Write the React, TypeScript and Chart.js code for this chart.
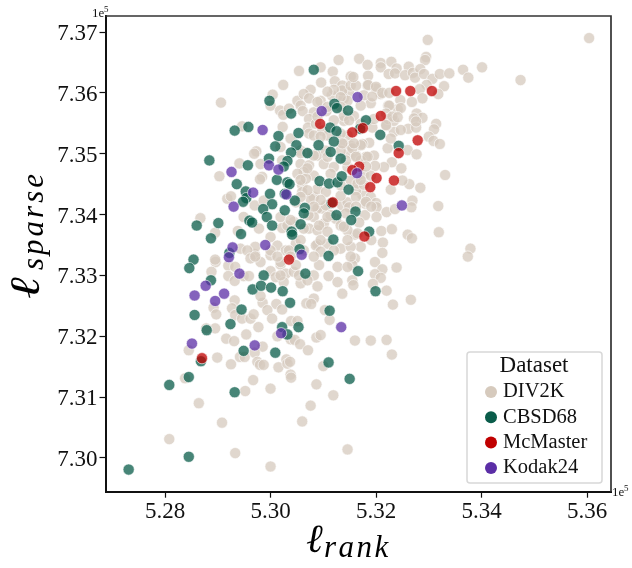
import React, { useEffect, useRef } from "react";
import { Chart, registerables } from "chart.js";

Chart.register(...registerables);

const xTickValues = [5.28, 5.3, 5.32, 5.34, 5.36];
const yTickValues = [7.3, 7.31, 7.32, 7.33, 7.34, 7.35, 7.36, 7.37];
const seriesNames = ["DIV2K", "CBSD68", "McMaster", "Kodak24"];
const seriesColors = ["#d6cabd", "#0a5c4a", "#c00000", "#5b2ea6"];

const div2k: number[][] = [
[5.3604,7.3690],[5.3298,7.3687],[5.3295,7.3659],[5.3293,7.3654],[5.3168,7.3656],[5.3184,7.3646],[5.3209,7.3649],[5.3229,7.3651],[5.3209,7.3642],[5.3262,7.3643],
[5.3239,7.3640],[5.3224,7.3631],[5.3236,7.3632],[5.3255,7.3629],[5.3270,7.3633],[5.3284,7.3639],[5.3274,7.3625],[5.3291,7.3631],[5.3307,7.3623],[5.3321,7.3631],
[5.3339,7.3632],[5.3365,7.3638],[5.3401,7.3642],[5.3375,7.3625],[5.3474,7.3621],[5.3329,7.3611],[5.3296,7.3613],[5.3283,7.3606],[5.3318,7.3598],[5.3288,7.3591],
[5.3268,7.3585],[5.3246,7.3588],[5.3185,7.3628],[5.3152,7.3627],[5.3241,7.3573],[5.3223,7.3579],[5.3209,7.3598],[5.3190,7.3583],[5.3277,7.3566],[5.3288,7.3559],
[5.3272,7.3558],[5.3314,7.3549],[5.3310,7.3540],[5.3261,7.3541],[5.3234,7.3536],[5.3300,7.3528],[5.3309,7.3521],[5.3321,7.3516],[5.3220,7.3546],[5.3276,7.3543],
[5.3193,7.3543],[5.3260,7.3506],[5.3277,7.3499],[5.3222,7.3509],[5.3187,7.3518],[5.3174,7.3516],[5.3228,7.3525],[5.3196,7.3497],[5.3181,7.3495],[5.3230,7.3486],
[5.3215,7.3478],[5.3198,7.3480],[5.3248,7.3476],[5.3331,7.3465],[5.3263,7.3450],[5.3284,7.3444],[5.3228,7.3441],[5.3250,7.3456],[5.3177,7.3465],[5.3174,7.3432],
[5.3190,7.3429],[5.3179,7.3418],[5.3200,7.3419],[5.3201,7.3412],[5.3201,7.3396],[5.3220,7.3404],[5.3236,7.3409],[5.3269,7.3423],[5.3267,7.3412],[5.3318,7.3414],
[5.3179,7.3399],[5.3168,7.3387],[5.3210,7.3373],[5.3230,7.3376],[5.3260,7.3367],[5.3268,7.3361],[5.3319,7.3371],[5.3160,7.3367],[5.3191,7.3358],[5.3213,7.3354],
[5.3171,7.3347],[5.3212,7.3337],[5.3379,7.3344],[5.3374,7.3331],[5.3160,7.3328],[5.3198,7.3322],[5.3155,7.3317],[5.3212,7.3310],[5.3239,7.3313],[5.3198,7.3302],
[5.3209,7.3296],[5.3155,7.3292],[5.3157,7.3284],[5.3194,7.3286],[5.3220,7.3275],[5.3232,7.3252],[5.3266,7.3260],[5.3160,7.3193],[5.3190,7.3193],[5.3220,7.3194],
[5.3230,7.3170],[5.2896,7.3322],[5.2888,7.3306],[5.2920,7.3316],[5.2933,7.3314],[5.2920,7.3299],[5.2932,7.3291],[5.2949,7.3299],[5.2959,7.3299],[5.3000,7.3307],
[5.2970,7.3335],[5.3000,7.3333],[5.2981,7.3322],[5.3019,7.3318],[5.3029,7.3303],[5.3010,7.3297],[5.3025,7.3289],[5.3044,7.3306],[5.3082,7.3300],[5.3089,7.3282],
[5.3057,7.3287],[5.3110,7.3299],[5.3127,7.3289],[5.3136,7.3270],[5.3082,7.3262],[5.3068,7.3254],[5.3077,7.3253],[5.2985,7.3255],[5.2981,7.3266],[5.3011,7.3253],
[5.3022,7.3244],[5.2994,7.3243],[5.3003,7.3229],[5.2932,7.3259],[5.2927,7.3246],[5.2892,7.3247],[5.2897,7.3236],[5.2933,7.3235],[5.2946,7.3229],[5.2962,7.3229],
[5.2968,7.3236],[5.2977,7.3215],[5.3039,7.3225],[5.3051,7.3225],[5.3103,7.3243],[5.3112,7.3227],[5.2895,7.3213],[5.2878,7.3213],[5.2954,7.3203],[5.2916,7.3196],
[5.2931,7.3192],[5.3013,7.3200],[5.3087,7.3198],[5.3095,7.3202],[5.3038,7.3195],[5.3046,7.3194],[5.3056,7.3187],[5.3071,7.3177],[5.2985,7.3183],[5.2845,7.3177],
[5.2899,7.3165],[5.2942,7.3166],[5.2951,7.3166],[5.2970,7.3173],[5.2975,7.3158],[5.2980,7.3153],[5.2987,7.3153],[5.2925,7.3154],[5.3015,7.3149],[5.3030,7.3162],
[5.3032,7.3155],[5.3037,7.3158],[5.3100,7.3151],[5.3038,7.3137],[5.3039,7.3132],[5.2838,7.3131],[5.2967,7.3128],[5.3000,7.3114],[5.3087,7.3121],[5.2952,7.3110],
[5.3119,7.3103],[5.2864,7.3090],[5.3076,7.3086],[5.2908,7.3058],[5.3060,7.3060],[5.2808,7.3031],[5.2933,7.3008],[5.3146,7.3014],[5.3000,7.2986],[5.3129,7.3654],
[5.3095,7.3642],[5.3054,7.3636],[5.3118,7.3635],[5.3024,7.3613],[5.3096,7.3617],[5.3122,7.3619],[5.2906,7.3584],[5.3004,7.3597],[5.3000,7.3579],[5.3018,7.3571],
[5.3024,7.3564],[5.3035,7.3574],[5.3051,7.3587],[5.3076,7.3605],[5.3063,7.3598],[5.3095,7.3587],[5.3136,7.3612],[5.3149,7.3601],[5.3073,7.3591],[5.3057,7.3579],
[5.3061,7.3570],[5.3082,7.3568],[5.3106,7.3570],[5.3073,7.3557],[5.3071,7.3543],[5.3086,7.3549],[5.3023,7.3544],[5.2946,7.3545],[5.3038,7.3525],[5.3073,7.3533],
[5.3098,7.3538],[5.3139,7.3554],[5.3146,7.3530],[5.3108,7.3530],[5.2973,7.3504],[5.2969,7.3500],[5.2941,7.3484],[5.2981,7.3483],[5.3022,7.3489],[5.3057,7.3483],
[5.3073,7.3481],[5.3089,7.3497],[5.3101,7.3483],[5.3120,7.3478],[5.3149,7.3502],[5.2903,7.3463],[5.2984,7.3462],[5.2980,7.3458],[5.3063,7.3470],[5.3051,7.3467],
[5.3082,7.3464],[5.3114,7.3467],[5.3060,7.3448],[5.3082,7.3429],[5.3089,7.3442],[5.2918,7.3426],[5.2925,7.3430],[5.2970,7.3415],[5.3098,7.3410],[5.3089,7.3410],
[5.3044,7.3388],[5.3082,7.3396],[5.3101,7.3385],[5.3136,7.3415],[5.3146,7.3420],[5.3073,7.3377],[5.3089,7.3374],[5.3063,7.3377],[5.3022,7.3378],[5.3000,7.3363],
[5.2978,7.3377],[5.2867,7.3394],[5.2895,7.3370],[5.2938,7.3373],[5.2949,7.3396],[5.2971,7.3347],[5.2943,7.3344],[5.2956,7.3341],[5.3013,7.3349],[5.3029,7.3341],
[5.3048,7.3352],[5.3089,7.3351],[5.3133,7.3344],[5.3152,7.3347],[5.3146,7.3374],[5.3165,7.3369],[5.2895,7.3326],[5.3067,7.3459],[5.3146,7.3478],[5.3060,7.3437],
[5.3105,7.3437],[5.3133,7.3431],[5.3149,7.3412],[5.3076,7.3426],[5.3048,7.3420],[5.2987,7.3423],[5.3124,7.3393],[5.3032,7.3382],[5.3139,7.3516],[5.3082,7.3497],
[5.3067,7.3502],[5.3019,7.3511],[5.3092,7.3382],[5.3086,7.3349],[5.3108,7.3352],[5.3146,7.3358],[5.3035,7.3341],[5.3019,7.3322],[5.3048,7.3317],[5.3054,7.3300],
[5.3019,7.3300],[5.3092,7.3317],[5.3127,7.3314],[5.3146,7.3314],[5.3070,7.3292],[5.2962,7.3328],[5.3139,7.3591],[5.3116,7.3596],[5.3136,7.3604],[5.3152,7.3612],
[5.3162,7.3612],[5.3184,7.3612],[5.3200,7.3607],[5.3177,7.3596],[5.3193,7.3594],[5.3146,7.3587],[5.3171,7.3579],[5.3225,7.3579],[5.3158,7.3562],[5.3139,7.3562],
[5.3219,7.3566],[5.3171,7.3549],[5.3196,7.3557],[5.3223,7.3557],[5.3234,7.3554],[5.3082,7.3530],[5.3152,7.3513],[5.3133,7.3505],[5.3162,7.3497],[5.3143,7.3489],
[5.3171,7.3489],[5.3105,7.3505],[5.3057,7.3505],[5.3190,7.3464],[5.3152,7.3456],[5.3133,7.3448],[5.3162,7.3440],[5.3105,7.3415],[5.3072,7.3399],[5.3114,7.3399],
[5.3133,7.3382],[5.3057,7.3358],[5.3095,7.3358],
[5.3157,7.3626],[5.3185,7.3613],[5.3200,7.3610],[5.3212,7.3600],[5.3225,7.3600],[5.3247,7.3575],[5.3231,7.3561],[5.3241,7.3560],[5.3219,7.3547],[5.3247,7.3539],
[5.3276,7.3553],[5.3171,7.3514],[5.3155,7.3509],[5.3184,7.3495],[5.3162,7.3495],[5.3181,7.3479],[5.3165,7.3451],[5.3177,7.3449],[5.3171,7.3457],[5.3162,7.3429],
[5.3181,7.3421],[5.3191,7.3413],[5.3162,7.3413],[5.3120,7.3605],[5.3133,7.3593],[5.3108,7.3602],[5.3089,7.3585],[5.3108,7.3577],[5.3133,7.3577],[5.3089,7.3561],
[5.3120,7.3555],[5.3149,7.3555],[5.3133,7.3533],[5.3095,7.3528],[5.3158,7.3517],[5.3136,7.3517],[5.3057,7.3501],[5.3108,7.3495],[5.3070,7.3476],[5.3057,7.3457],
[5.3070,7.3440],[5.3057,7.3429],[5.3095,7.3424],[5.3143,7.3402],[5.3082,7.3413],[5.3019,7.3396],[5.3038,7.3391],[5.3108,7.3396],[5.3139,7.3380],[5.3108,7.3372],
[5.3063,7.3341],[5.3095,7.3339],[5.3120,7.3341],[5.3082,7.3331],[5.2971,7.3331],[5.3000,7.3341],[5.3013,7.3331],[5.3038,7.3331],[5.3152,7.3331],
];

const cbsd68: number[][] = [
[5.3082,7.3638],[5.2998,7.3587],[5.3039,7.3566],[5.3121,7.3582],[5.3126,7.3575],[5.3147,7.3571],[5.2932,7.3538],[5.2958,7.3544],[5.3113,7.3543],[5.3125,7.3537],
[5.3170,7.3541],[5.3015,7.3529],[5.3053,7.3534],[5.3009,7.3512],[5.3049,7.3514],[5.3091,7.3514],[5.3120,7.3520],[5.3039,7.3502],[5.3070,7.3501],[5.3114,7.3503],
[5.2884,7.3489],[5.2997,7.3492],[5.3032,7.3488],[5.3133,7.3492],[5.2957,7.3481],[5.3025,7.3479],[5.3012,7.3457],[5.2936,7.3450],[5.3032,7.3453],[5.3036,7.3450],
[5.3093,7.3455],[5.3111,7.3451],[5.3127,7.3453],[5.3135,7.3463],[5.2953,7.3438],[5.2954,7.3427],[5.2948,7.3421],[5.2999,7.3434],[5.3148,7.3441],[5.3027,7.3434],
[5.3046,7.3423],[5.3003,7.3417],[5.2986,7.3409],[5.3065,7.3411],[5.3063,7.3402],[5.3027,7.3407],[5.3161,7.3405],[5.2993,7.3396],[5.3125,7.3399],[5.3153,7.3391],
[5.2860,7.3382],[5.2901,7.3386],[5.2960,7.3390],[5.2965,7.3387],[5.3003,7.3382],[5.3057,7.3384],[5.2887,7.3361],[5.2944,7.3368],[5.3040,7.3372],[5.3041,7.3367],
[5.3119,7.3359],[5.3116,7.3419],[5.2922,7.3337],[5.2854,7.3326],[5.3055,7.3343],[5.3110,7.3332],[5.2846,7.3312],[5.2887,7.3292],[5.2987,7.3300],[5.3066,7.3303],
[5.3166,7.3307],[5.2966,7.3277],[5.2982,7.3283],[5.3001,7.3280],[5.3023,7.3274],[5.3037,7.3255],[5.2945,7.3244],[5.3112,7.3242],[5.2856,7.3235],[5.2924,7.3220],
[5.3022,7.3215],[5.3053,7.3215],[5.2879,7.3210],[5.3032,7.3203],[5.2949,7.3176],[5.3009,7.3173],[5.2868,7.3159],[5.3110,7.3157],[5.2845,7.3133],[5.2808,7.3120],
[5.2932,7.3108],[5.3150,7.3130],[5.2845,7.3002],[5.2731,7.2981],[5.3181,7.3555],[5.3208,7.3531],[5.3243,7.3513],[5.3187,7.3372],[5.3199,7.3274],
];

const mcmaster: number[][] = [
[5.3238,7.3603],[5.3265,7.3603],[5.3306,7.3603],[5.3209,7.3562],[5.3175,7.3542],[5.3155,7.3535],[5.3279,7.3522],[5.3243,7.3501],[5.3168,7.3479],[5.3155,7.3473],
[5.3201,7.3460],[5.3234,7.3456],[5.3189,7.3445],[5.3178,7.3364],[5.3094,7.3549],[5.3118,7.3420],[5.3035,7.3326],[5.2870,7.3164],
];

const kodak24: number[][] = [
[5.3097,7.3570],[5.3165,7.3593],[5.2985,7.3539],[5.2926,7.3470],[5.2997,7.3481],[5.3015,7.3474],[5.3164,7.3468],[5.2967,7.3436],[5.3030,7.3433],[5.2930,7.3413],
[5.2928,7.3346],[5.2921,7.3330],[5.2990,7.3350],[5.3059,7.3334],[5.2941,7.3303],[5.2877,7.3283],[5.2856,7.3267],[5.2912,7.3270],[5.2895,7.3258],[5.3134,7.3215],
[5.3020,7.3205],[5.2851,7.3188],[5.2970,7.3185],[5.3249,7.3415],
];

const seriesData = [div2k, cbsd68, mcmaster, kodak24];

const SERIF = '"Liberation Serif", serif';

function alpha(hex: string, a: number) {
  const n = parseInt(hex.slice(1), 16);
  return `rgba(${(n >> 16) & 255},${(n >> 8) & 255},${n & 255},${a})`;
}

const decorations = {
  id: "decorations",
  afterDraw(chart: any) {
    const { ctx, chartArea: a } = chart;
    ctx.save();
    // top and right spines
    ctx.strokeStyle = "#333";
    ctx.lineWidth = 1.7;
    ctx.beginPath();
    ctx.moveTo(a.left, a.top);
    ctx.lineTo(a.right, a.top);
    ctx.lineTo(a.right, a.bottom);
    ctx.stroke();

    // offset texts
    ctx.fillStyle = "#111";
    ctx.textBaseline = "alphabetic";
    ctx.textAlign = "left";
    ctx.font = `13px ${SERIF}`;
    ctx.fillText("1e", 92, 17);
    ctx.fillText("1e", 612, 496);
    ctx.font = `9px ${SERIF}`;
    ctx.fillText("5", 104, 12);
    ctx.fillText("5", 624, 491);

    // x axis title
    ctx.fillStyle = "#000";
    ctx.font = `italic 40px ${SERIF}`;
    ctx.fillText("\u2113", 306, 552);
    ctx.font = `italic 31px ${SERIF}`;
    (ctx as any).letterSpacing = "2.5px";
    ctx.fillText("rank", 324, 557);
    (ctx as any).letterSpacing = "0px";

    // y axis title
    ctx.save();
    ctx.translate(39, 299);
    ctx.rotate(-Math.PI / 2);
    ctx.scale(1.25, 1);
    ctx.font = `italic 42px ${SERIF}`;
    ctx.fillText("\u2113", 0, 0);
    ctx.restore();
    ctx.save();
    ctx.translate(43, 270);
    ctx.rotate(-Math.PI / 2);
    ctx.font = `italic 31px ${SERIF}`;
    (ctx as any).letterSpacing = "3px";
    ctx.fillText("sparse", 0, 0);
    ctx.restore();

    // legend
    const lx = 467, ly = 352, lw = 135, lh = 131;
    ctx.beginPath();
    ctx.roundRect(lx, ly, lw, lh, 3);
    ctx.fillStyle = "rgba(255,255,255,0.8)";
    ctx.fill();
    ctx.strokeStyle = "#d8d8d8";
    ctx.lineWidth = 1.5;
    ctx.stroke();
    ctx.fillStyle = "#111";
    ctx.font = `23px ${SERIF}`;
    ctx.textAlign = "center";
    ctx.textBaseline = "middle";
    ctx.fillText("Dataset", 534, 366);
    ctx.textAlign = "left";
    ctx.font = `20.5px ${SERIF}`;
    seriesNames.forEach((name, i) => {
      const y = 392 + i * 25.3;
      ctx.beginPath();
      ctx.arc(491, y, 6, 0, Math.PI * 2);
      ctx.fillStyle = seriesColors[i];
      ctx.fill();
      ctx.fillStyle = "#111";
      ctx.fillText(name, 503, y);
    });
    ctx.restore();
  },
};

export default function App() {
  const ref = useRef<HTMLCanvasElement>(null);
  useEffect(() => {
    const chart = new Chart(ref.current!, {
      type: "scatter",
      data: {
        datasets: seriesNames.map((name, i) => ({
          label: name,
          data: seriesData[i].map(([x, y]) => ({ x, y })),
          order: seriesNames.length - 1 - i,
          backgroundColor: alpha(seriesColors[i], 0.75),
          borderColor: "rgba(255,255,255,0.75)",
          borderWidth: 0.8,
          pointRadius: 5.6,
        })),
      },
      plugins: [decorations],
      options: {
        animation: false,
        responsive: false,
        layout: { padding: { top: 16, right: 21, left: 0, bottom: 0 } },
        plugins: { legend: { display: false }, tooltip: { enabled: false } },
        scales: {
          x: {
            type: "linear",
            min: 5.26871,
            max: 5.36455,
            afterBuildTicks: (s: any) => {
              s.ticks = xTickValues.map((value) => ({ value }));
            },
            afterFit: (s: any) => {
              s.height = 76.3;
            },
            border: { display: true, color: "#111", width: 2 },
            grid: { drawOnChartArea: false, drawTicks: true, tickLength: 6, tickColor: "#111", tickWidth: 1.2 },
            ticks: {
              color: "#111",
              padding: 0,
              maxRotation: 0,
              font: { family: SERIF, size: 23 },
              callback: (v: any) => Number(v).toFixed(2),
            },
          },
          y: {
            type: "linear",
            min: 7.29446,
            max: 7.37263,
            afterBuildTicks: (s: any) => {
              s.ticks = yTickValues.map((value) => ({ value }));
            },
            afterFit: (s: any) => {
              s.width = 105.5;
            },
            border: { display: true, color: "#111", width: 2 },
            grid: { drawOnChartArea: false, drawTicks: true, tickLength: 6, tickColor: "#111", tickWidth: 1.2 },
            ticks: {
              color: "#111",
              padding: 2,
              labelOffset: 2,
              font: { family: SERIF, size: 23 },
              callback: (v: any) => Number(v).toFixed(2),
            },
          },
        },
      },
    } as any);
    return () => chart.destroy();
  }, []);
  return (
    <div style={{ position: "absolute", left: 0, top: 0, width: 632, height: 568 }}>
      <canvas ref={ref} width={632} height={568} style={{ display: "block" }} />
    </div>
  );
}
